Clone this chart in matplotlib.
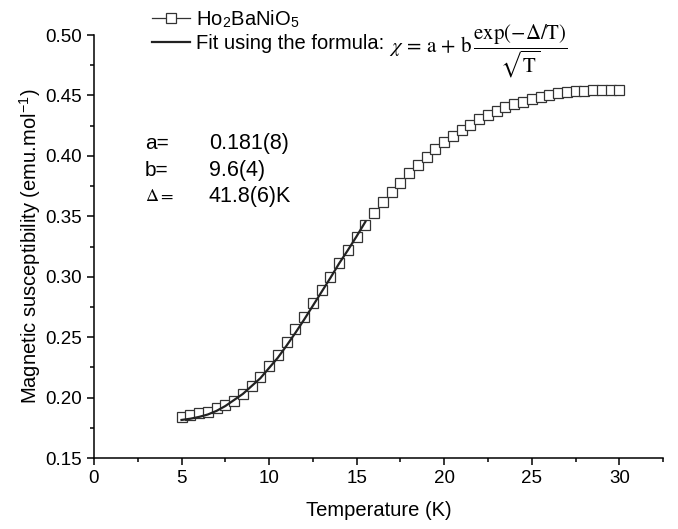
import numpy as np
import matplotlib
matplotlib.use("Agg")
import matplotlib.pyplot as plt
from matplotlib.ticker import MultipleLocator

plt.rcParams["font.family"] = ["Liberation Sans", "DejaVu Sans"]
plt.rcParams["mathtext.fontset"] = "stix"

# measured data, Ho2BaNiO5 (0.5 K steps from 5 K to 30 K)
temp = np.arange(5.0, 30.01, 0.5)
chi = [0.1842, 0.1856, 0.1870, 0.1883, 0.1911, 0.1939, 0.1972, 0.2030, 0.2096,
       0.2168, 0.2261, 0.2352, 0.2457, 0.2565, 0.2667, 0.2785, 0.2890, 0.3000,
       0.3111, 0.3221, 0.3331, 0.3428, 0.3525, 0.3616, 0.3703, 0.3778, 0.3856,
       0.3924, 0.3993, 0.4057, 0.4117, 0.4167, 0.4214, 0.4255, 0.4302, 0.4338,
       0.4374, 0.4402, 0.4429, 0.4448, 0.4470, 0.4490, 0.4503, 0.4518, 0.4526,
       0.4537, 0.4539, 0.4545, 0.4545, 0.4545, 0.4545]

# fit curve (5 K to 15.5 K)
fit_temp = np.arange(5.0, 15.51, 0.5)
fit_chi = [0.1815, 0.1825, 0.1840, 0.1860, 0.1890, 0.1930, 0.1980, 0.2030,
           0.2095, 0.2160, 0.2245, 0.2330, 0.2430, 0.2535, 0.2645, 0.2760,
           0.2875, 0.2990, 0.3110, 0.3220, 0.3335, 0.3455]

param_names = ["a=", "b=", r"$\mathrm{\Delta=}$"]
param_values = ["0.181(8)", "9.6(4)", "41.8(6)K"]

fig = plt.figure(figsize=(6.78, 5.29), dpi=100)
ax = fig.add_axes([0.1386, 0.1342, 0.8394, 0.7996])

ax.plot(fit_temp, fit_chi, color="#222222", lw=1.6, zorder=3,
        label="Fit using the formula:")
ax.plot(temp, chi, ls="none", marker="s", ms=6.6, mfc="white", mec="#333333",
        color="#333333", mew=0.9, zorder=2,
        label=r"Ho$_\mathregular{2}$BaNiO$_\mathregular{5}$")

ax.set_xlim(0, 32.5)
ax.set_ylim(0.15, 0.50)
ax.xaxis.set_major_locator(MultipleLocator(5))
ax.xaxis.set_minor_locator(MultipleLocator(2.5))
ax.yaxis.set_major_locator(MultipleLocator(0.05))
ax.yaxis.set_minor_locator(MultipleLocator(0.025))
ax.yaxis.set_major_formatter(plt.FormatStrFormatter("%.2f"))

for side in ["top", "right"]:
    ax.spines[side].set_visible(False)
for side in ["left", "bottom"]:
    ax.spines[side].set_linewidth(1.1)
ax.tick_params(which="major", direction="out", length=5, width=1.1, labelsize=13.5)
ax.tick_params(which="minor", direction="out", length=3, width=1.1)

ax.set_xlabel("Temperature (K)", fontsize=14.5, labelpad=10)
ax.set_ylabel(r"Magnetic susceptibility (emu.mol$^\mathregular{-1}$)", fontsize=14.5, labelpad=2)

# fit parameters
for i, (n, v) in enumerate(zip(param_names, param_values)):
    y = 0.4106 - i * 0.0223
    ax.text(2.9, y, n, fontsize=15 if i < 2 else 13, va="center", ha="left")
    ax.text(6.55, y, v, fontsize=15.5, va="center", ha="left")

handles, labels = ax.get_legend_handles_labels()
leg = fig.legend(handles[::-1], labels[::-1], loc="upper left",
                 bbox_to_anchor=(0.224, 0.984), frameon=False, fontsize=14.5,
                 handlelength=1.9, handletextpad=0.3, labelspacing=0.2,
                 borderaxespad=0, borderpad=0)
leg.legend_handles[0].set_linestyle("-")
leg.legend_handles[0].set_linewidth(0.9)

fig.text(0.574, 0.902,
         r"$\chi\,=\,\mathrm{a}\,+\,\mathrm{b}\,"
         r"\dfrac{\mathrm{exp}(-\Delta/\mathrm{T})}{\sqrt{\mathrm{T}}}$",
         fontsize=15, va="baseline", ha="left")

fig.savefig("out.png", dpi=100)
